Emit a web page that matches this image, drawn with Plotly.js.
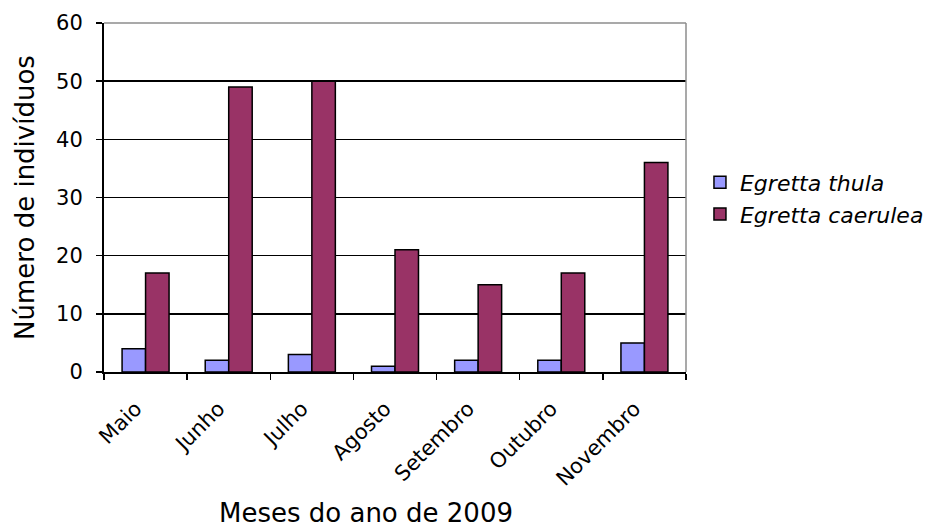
<!DOCTYPE html>
<html>
<head>
<meta charset="utf-8">
<script src="https://cdn.plot.ly/plotly-3.0.1.min.js"></script>
<style>
  html, body { margin: 0; padding: 0; background: #fff; }
  #chart { width: 936px; height: 531px; }
</style>
</head>
<body>
<div id="chart"></div>
<script>
// Monthly counts of two egret species, May–November 2009
const months = ["Maio", "Junho", "Julho", "Agosto", "Setembro", "Outubro", "Novembro"];
const thulaCounts = [4, 2, 3, 1, 2, 2, 5];
const caeruleaCounts = [17, 49, 50, 21, 15, 17, 36];
const seriesNames = ["Egretta thula", "Egretta caerulea"];
const yTicks = [0, 10, 20, 30, 40, 50, 60];
const xTitle = "Meses do ano de 2009";
const yTitle = "Número de indivíduos";

const FONT = "DejaVu Sans, Arial, sans-serif";

const traces = [
  {
    type: "bar",
    name: "<i>" + seriesNames[0] + "</i>",
    x: months,
    y: thulaCounts,
    marker: { color: "#9999FF", line: { color: "#000000", width: 1.5 } },
    hoverinfo: "skip"
  },
  {
    type: "bar",
    name: "<i>" + seriesNames[1] + "</i>",
    x: months,
    y: caeruleaCounts,
    marker: { color: "#993366", line: { color: "#000000", width: 1.5 } },
    hoverinfo: "skip"
  }
];

const layout = {
  width: 936,
  height: 531,
  margin: { l: 104, r: 250, t: 23, b: 159, autoexpand: false },
  paper_bgcolor: "#ffffff",
  plot_bgcolor: "#ffffff",
  font: { family: FONT, color: "#000000" },
  barmode: "group",
  bargap: 0.435,
  bargroupgap: 0,
  showlegend: true,
  legend: {
    x: 1.024, xanchor: "left",
    y: 0.497, yanchor: "middle",
    font: { family: FONT, size: 22, color: "#000000" },
    tracegroupgap: 0,
    bgcolor: "rgba(0,0,0,0)"
  },
  xaxis: {
    type: "category",
    tickson: "boundaries",
    ticks: "outside",
    ticklen: 6,
    tickwidth: 1.5,
    tickcolor: "#000000",
    tickangle: -45,
    tickfont: { family: FONT, size: 21, color: "#000000" },
    ticklabelshift: -10,
    ticklabelstandoff: 14,
    showline: true,
    linecolor: "#000000",
    linewidth: 2,
    showgrid: false,
    zeroline: false
  },
  yaxis: {
    range: [0, 60],
    tickvals: yTicks,
    ticktext: yTicks.map(String),
    ticks: "outside",
    ticklen: 6,
    tickwidth: 1.5,
    tickcolor: "#000000",
    tickfont: { family: FONT, size: 21, color: "#000000" },
    ticklabelstandoff: 9,
    showline: true,
    linecolor: "#000000",
    linewidth: 2,
    showgrid: true,
    gridcolor: "#000000",
    gridwidth: 1.5,
    zeroline: false,
    title: {
      text: yTitle,
      font: { family: FONT, size: 26, color: "#000000" },
      standoff: 14
    }
  },
  annotations: [
    {
      text: xTitle,
      xref: "paper", yref: "paper",
      x: 0.45, y: -0.405,
      xanchor: "center", yanchor: "middle",
      showarrow: false,
      font: { family: FONT, size: 26, color: "#000000" }
    }
  ],
  shapes: [
    // grey frame on the top and right sides of the plotting area
    { type: "line", xref: "paper", yref: "paper", x0: 0, x1: 1, y0: 1, y1: 1,
      line: { color: "#8c8c8c", width: 1.5 }, layer: "above" },
    { type: "line", xref: "paper", yref: "paper", x0: 1, x1: 1, y0: 0, y1: 1,
      line: { color: "#8c8c8c", width: 1.5 }, layer: "above" }
  ]
};

Plotly.newPlot("chart", traces, layout, { displayModeBar: false, staticPlot: true });
</script>
</body>
</html>
